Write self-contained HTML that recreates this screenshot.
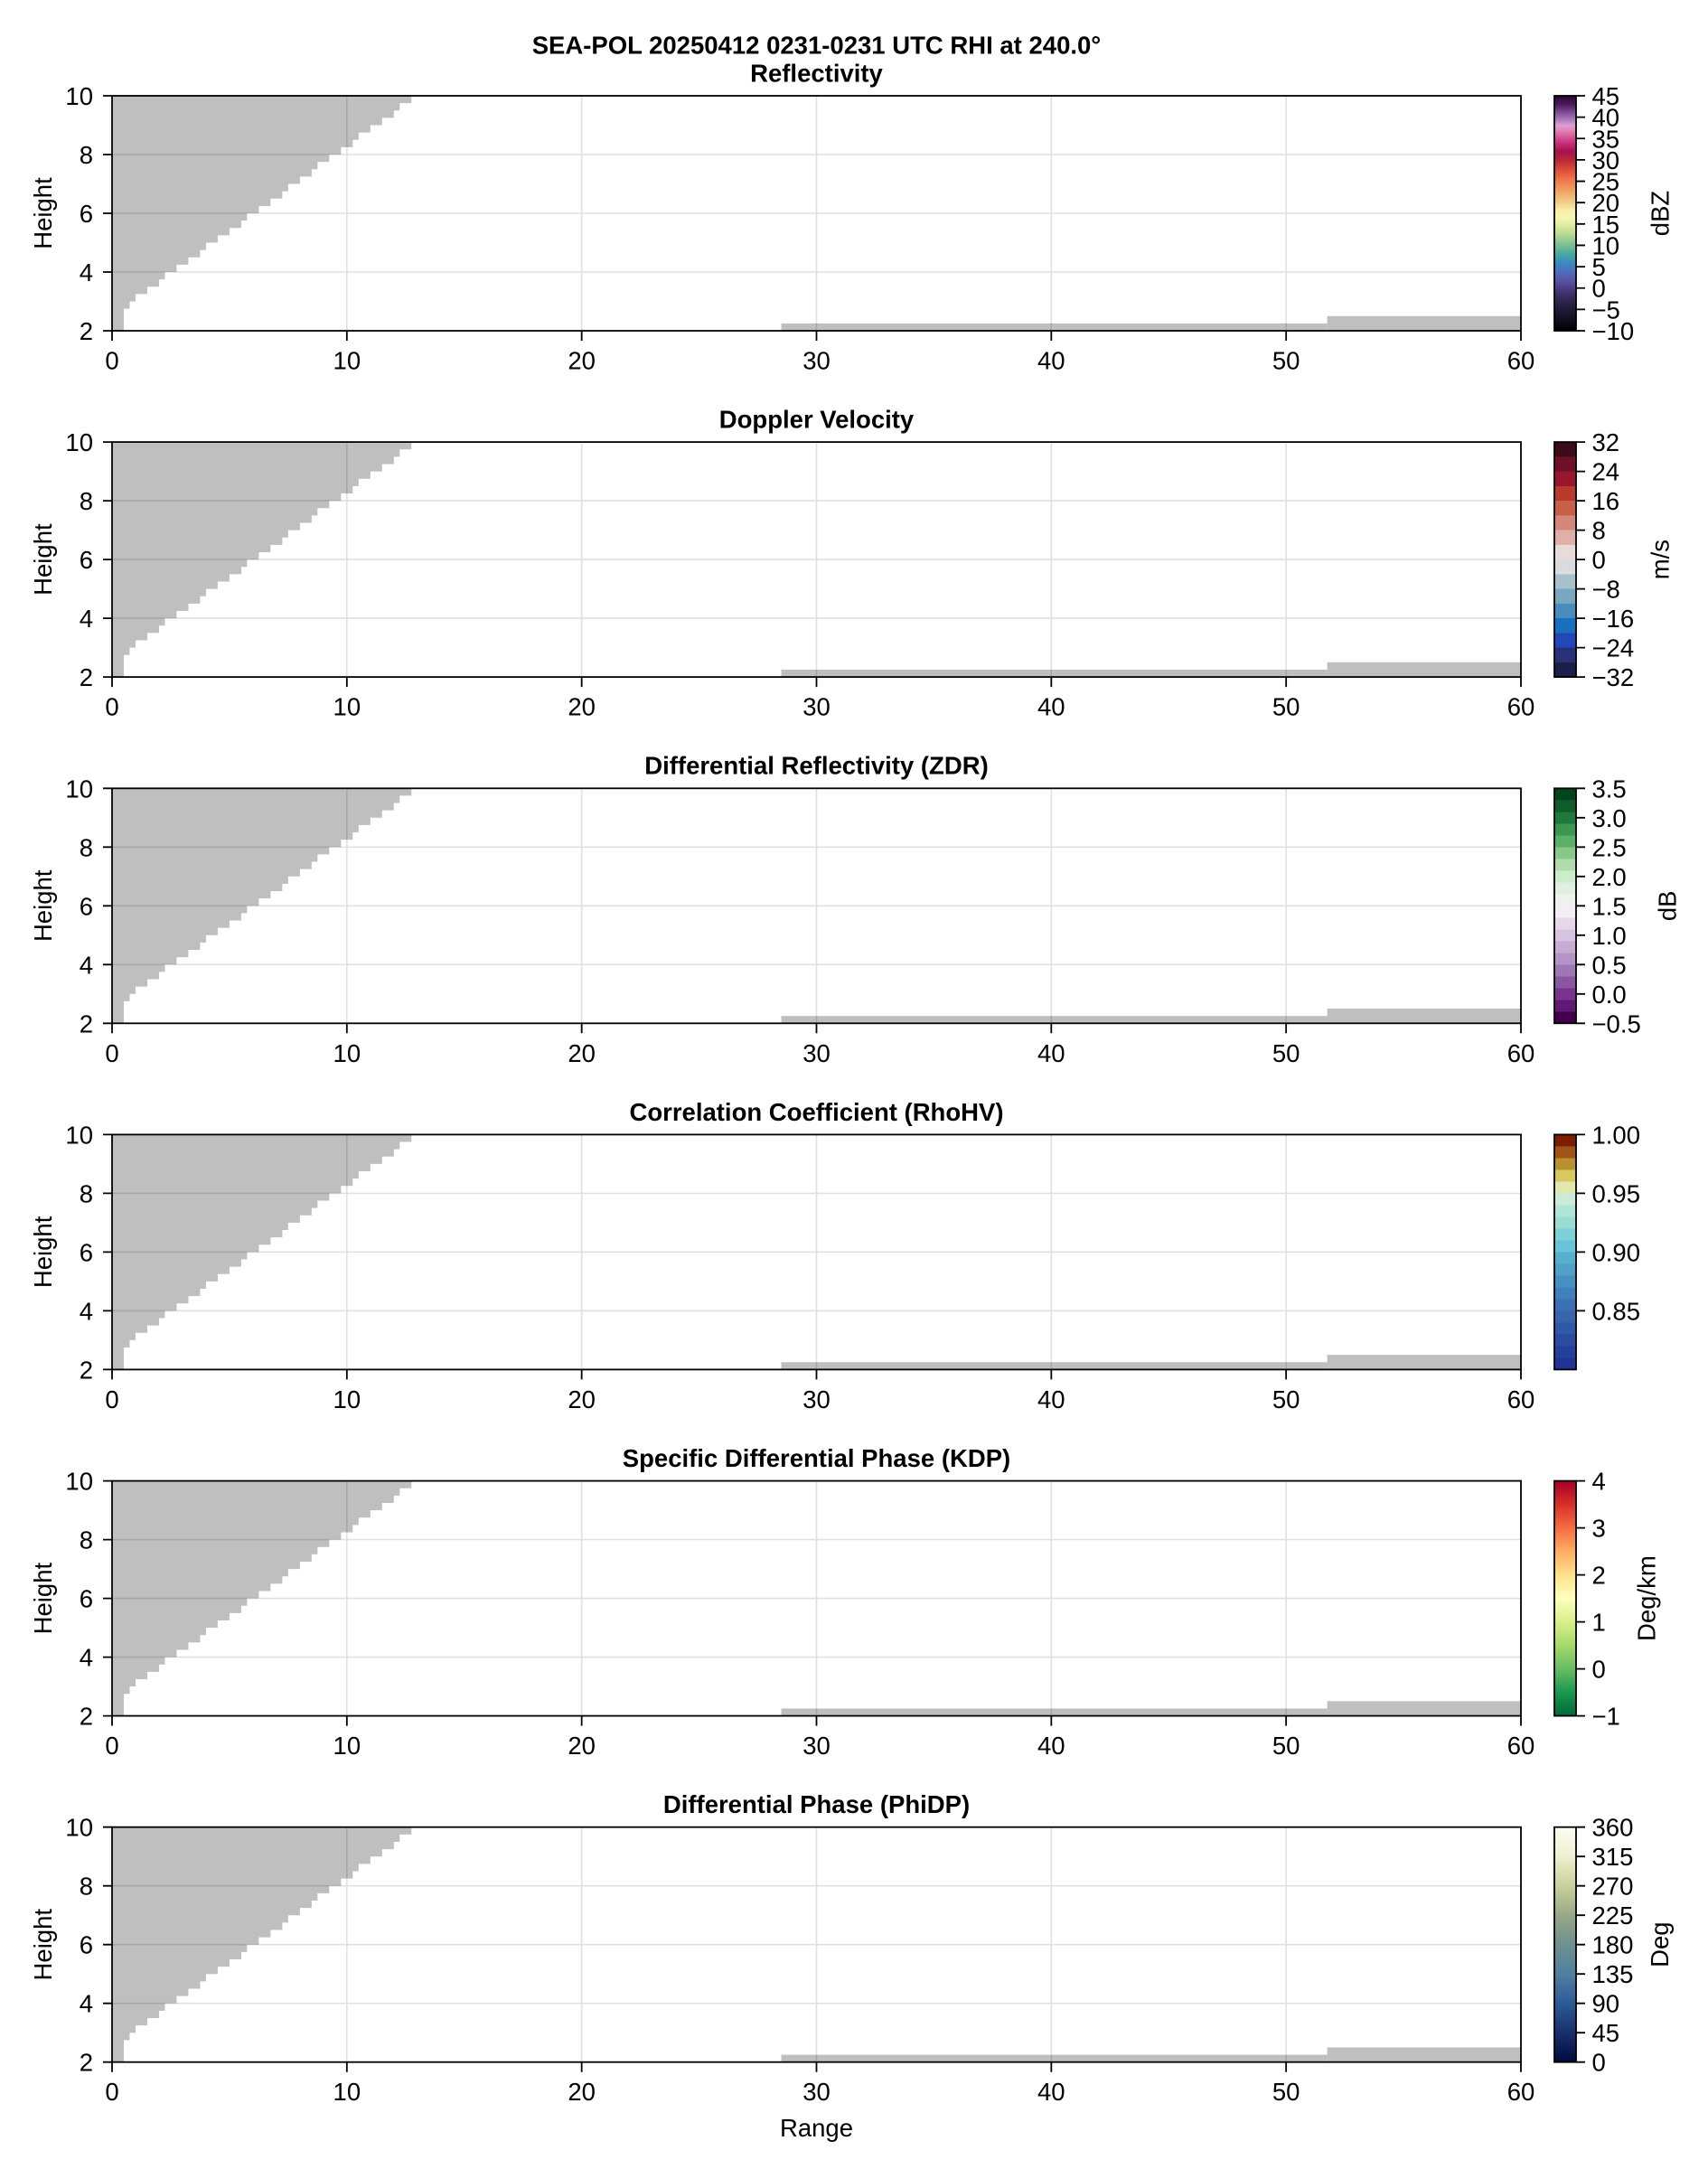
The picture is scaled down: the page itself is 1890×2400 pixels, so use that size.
<!DOCTYPE html>
<html>
<head>
<meta charset="utf-8">
<style>
html,body{margin:0;padding:0;background:#fff;}
svg{display:block;}
.t{font-family:"Liberation Sans",sans-serif;font-size:27.5px;fill:#000;}
.b{font-family:"Liberation Sans",sans-serif;font-size:27.5px;font-weight:bold;fill:#000;}
</style>
</head>
<body>
<svg width="1890" height="2400" viewBox="0 0 1890 2400" xmlns="http://www.w3.org/2000/svg">
<defs>
<linearGradient id="gZ" x1="0" y1="0" x2="0" y2="1">
<stop offset="0" stop-color="#2a0a38"/>
<stop offset="0.036" stop-color="#4a1858"/>
<stop offset="0.073" stop-color="#80509a"/>
<stop offset="0.1" stop-color="#a878b8"/>
<stop offset="0.127" stop-color="#e0a0d0"/>
<stop offset="0.16" stop-color="#e070a8"/>
<stop offset="0.2" stop-color="#c83080"/>
<stop offset="0.236" stop-color="#a81050"/>
<stop offset="0.273" stop-color="#b82838"/>
<stop offset="0.31" stop-color="#d84838"/>
<stop offset="0.345" stop-color="#ec6a44"/>
<stop offset="0.4" stop-color="#f0a060"/>
<stop offset="0.455" stop-color="#f0d088"/>
<stop offset="0.49" stop-color="#f8f0a8"/>
<stop offset="0.52" stop-color="#f4f8b4"/>
<stop offset="0.56" stop-color="#d8e89a"/>
<stop offset="0.6" stop-color="#a8d490"/>
<stop offset="0.636" stop-color="#78c098"/>
<stop offset="0.673" stop-color="#48a8a0"/>
<stop offset="0.71" stop-color="#3a8cc0"/>
<stop offset="0.745" stop-color="#4a70c0"/>
<stop offset="0.78" stop-color="#5a58a8"/>
<stop offset="0.82" stop-color="#4a3c84"/>
<stop offset="0.87" stop-color="#302650"/>
<stop offset="0.92" stop-color="#1c1830"/>
<stop offset="1" stop-color="#000000"/>
</linearGradient>
<linearGradient id="gV" x1="0" y1="0" x2="0" y2="1">
<stop offset="0" stop-color="#3c0a18"/><stop offset="0.0625" stop-color="#3c0a18"/>
<stop offset="0.0625" stop-color="#6e1028"/><stop offset="0.125" stop-color="#6e1028"/>
<stop offset="0.125" stop-color="#9a1530"/><stop offset="0.1875" stop-color="#9a1530"/>
<stop offset="0.1875" stop-color="#b83a2a"/><stop offset="0.25" stop-color="#b83a2a"/>
<stop offset="0.25" stop-color="#c86048"/><stop offset="0.3125" stop-color="#c86048"/>
<stop offset="0.3125" stop-color="#d4887a"/><stop offset="0.375" stop-color="#d4887a"/>
<stop offset="0.375" stop-color="#e0b0a8"/><stop offset="0.4375" stop-color="#e0b0a8"/>
<stop offset="0.4375" stop-color="#e8dcd8"/><stop offset="0.5" stop-color="#e8dcd8"/>
<stop offset="0.5" stop-color="#d8dcdf"/><stop offset="0.5625" stop-color="#d8dcdf"/>
<stop offset="0.5625" stop-color="#a8c0cc"/><stop offset="0.625" stop-color="#a8c0cc"/>
<stop offset="0.625" stop-color="#78a8c0"/><stop offset="0.6875" stop-color="#78a8c0"/>
<stop offset="0.6875" stop-color="#4a8cc0"/><stop offset="0.75" stop-color="#4a8cc0"/>
<stop offset="0.75" stop-color="#1870c0"/><stop offset="0.8125" stop-color="#1870c0"/>
<stop offset="0.8125" stop-color="#2048b8"/><stop offset="0.875" stop-color="#2048b8"/>
<stop offset="0.875" stop-color="#283078"/><stop offset="0.9375" stop-color="#283078"/>
<stop offset="0.9375" stop-color="#1a1e48"/><stop offset="1" stop-color="#1a1e48"/>
</linearGradient>
<linearGradient id="gD" x1="0" y1="0" x2="0" y2="1">
<stop offset="0" stop-color="#00441b"/><stop offset="0.05" stop-color="#00441b"/>
<stop offset="0.05" stop-color="#0f5e2a"/><stop offset="0.1" stop-color="#0f5e2a"/>
<stop offset="0.1" stop-color="#1e7a3a"/><stop offset="0.15" stop-color="#1e7a3a"/>
<stop offset="0.15" stop-color="#3a9650"/><stop offset="0.2" stop-color="#3a9650"/>
<stop offset="0.2" stop-color="#5cb068"/><stop offset="0.25" stop-color="#5cb068"/>
<stop offset="0.25" stop-color="#88c888"/><stop offset="0.3" stop-color="#88c888"/>
<stop offset="0.3" stop-color="#b0dcae"/><stop offset="0.35" stop-color="#b0dcae"/>
<stop offset="0.35" stop-color="#cceccc"/><stop offset="0.4" stop-color="#cceccc"/>
<stop offset="0.4" stop-color="#e0f0e0"/><stop offset="0.45" stop-color="#e0f0e0"/>
<stop offset="0.45" stop-color="#eef2ee"/><stop offset="0.5" stop-color="#eef2ee"/>
<stop offset="0.5" stop-color="#f2eef4"/><stop offset="0.55" stop-color="#f2eef4"/>
<stop offset="0.55" stop-color="#e6d8ea"/><stop offset="0.6" stop-color="#e6d8ea"/>
<stop offset="0.6" stop-color="#d8c4e0"/><stop offset="0.65" stop-color="#d8c4e0"/>
<stop offset="0.65" stop-color="#c8aad4"/><stop offset="0.7" stop-color="#c8aad4"/>
<stop offset="0.7" stop-color="#b494c6"/><stop offset="0.75" stop-color="#b494c6"/>
<stop offset="0.75" stop-color="#9e78b4"/><stop offset="0.8" stop-color="#9e78b4"/>
<stop offset="0.8" stop-color="#8a56a2"/><stop offset="0.85" stop-color="#8a56a2"/>
<stop offset="0.85" stop-color="#783490"/><stop offset="0.9" stop-color="#783490"/>
<stop offset="0.9" stop-color="#601a76"/><stop offset="0.95" stop-color="#601a76"/>
<stop offset="0.95" stop-color="#40004b"/><stop offset="1" stop-color="#40004b"/>
</linearGradient>
<linearGradient id="gR" x1="0" y1="0" x2="0" y2="1">
<stop offset="0" stop-color="#7e1e00"/><stop offset="0.05" stop-color="#7e1e00"/>
<stop offset="0.05" stop-color="#a05418"/><stop offset="0.1" stop-color="#a05418"/>
<stop offset="0.1" stop-color="#b89030"/><stop offset="0.15" stop-color="#b89030"/>
<stop offset="0.15" stop-color="#d8c860"/><stop offset="0.2" stop-color="#d8c860"/>
<stop offset="0.2" stop-color="#e0e8b0"/><stop offset="0.25" stop-color="#e0e8b0"/>
<stop offset="0.25" stop-color="#c8ecd8"/><stop offset="0.3" stop-color="#c8ecd8"/>
<stop offset="0.3" stop-color="#b0e4d8"/><stop offset="0.35" stop-color="#b0e4d8"/>
<stop offset="0.35" stop-color="#98dcd4"/><stop offset="0.4" stop-color="#98dcd4"/>
<stop offset="0.4" stop-color="#80d0d8"/><stop offset="0.45" stop-color="#80d0d8"/>
<stop offset="0.45" stop-color="#68c4d8"/><stop offset="0.5" stop-color="#68c4d8"/>
<stop offset="0.5" stop-color="#58b0d0"/><stop offset="0.55" stop-color="#58b0d0"/>
<stop offset="0.55" stop-color="#50a0c8"/><stop offset="0.6" stop-color="#50a0c8"/>
<stop offset="0.6" stop-color="#4890c4"/><stop offset="0.65" stop-color="#4890c4"/>
<stop offset="0.65" stop-color="#4080bc"/><stop offset="0.7" stop-color="#4080bc"/>
<stop offset="0.7" stop-color="#3c70b4"/><stop offset="0.75" stop-color="#3c70b4"/>
<stop offset="0.75" stop-color="#3864ac"/><stop offset="0.8" stop-color="#3864ac"/>
<stop offset="0.8" stop-color="#3058a8"/><stop offset="0.85" stop-color="#3058a8"/>
<stop offset="0.85" stop-color="#2a4ca0"/><stop offset="0.9" stop-color="#2a4ca0"/>
<stop offset="0.9" stop-color="#24409c"/><stop offset="0.95" stop-color="#24409c"/>
<stop offset="0.95" stop-color="#203498"/><stop offset="1" stop-color="#203498"/>
</linearGradient>
<linearGradient id="gK" x1="0" y1="0" x2="0" y2="1">
<stop offset="0" stop-color="#a50026"/>
<stop offset="0.1" stop-color="#d73027"/>
<stop offset="0.2" stop-color="#f46d43"/>
<stop offset="0.3" stop-color="#fdae61"/>
<stop offset="0.4" stop-color="#fee08b"/>
<stop offset="0.5" stop-color="#ffffbf"/>
<stop offset="0.6" stop-color="#d9ef8b"/>
<stop offset="0.7" stop-color="#a6d96a"/>
<stop offset="0.8" stop-color="#66bd63"/>
<stop offset="0.9" stop-color="#1a9850"/>
<stop offset="1" stop-color="#006837"/>
</linearGradient>
<linearGradient id="gP" x1="0" y1="0" x2="0" y2="1">
<stop offset="0" stop-color="#fdfdf2"/>
<stop offset="0.125" stop-color="#eef0d0"/>
<stop offset="0.25" stop-color="#c8d09c"/>
<stop offset="0.375" stop-color="#98a888"/>
<stop offset="0.5" stop-color="#6e9090"/>
<stop offset="0.625" stop-color="#5080a0"/>
<stop offset="0.75" stop-color="#2c5a98"/>
<stop offset="0.875" stop-color="#18306c"/>
<stop offset="1" stop-color="#000a40"/>
</linearGradient>
<g id="base">
<path fill="#bfbfbf" d="M124,0 H455.28 V8.125 H442.29 V16.25 H435.8 V24.375 H422.8 V32.5 H409.81 V40.625 H396.82 V48.75 H390.33 V56.875 H377.34 V65 H364.34 V73.125 H351.35 V81.25 H344.86 V89.375 H331.86 V97.5 H318.87 V105.625 H312.38 V113.75 H299.39 V121.875 H286.39 V130 H273.4 V138.125 H266.91 V146.25 H253.92 V154.375 H240.92 V162.5 H227.93 V170.625 H221.44 V178.75 H208.44 V186.875 H195.45 V195 H182.46 V203.125 H175.97 V211.25 H162.97 V219.375 H149.98 V227.5 H143.49 V235.625 H136.99 V260 H124 Z"/>
<rect x="864.52" y="251.875" width="604.1" height="8.125" fill="#bfbfbf"/>
<rect x="1468.62" y="243.75" width="214.38" height="16.25" fill="#bfbfbf"/>
<g stroke="#000" stroke-opacity="0.12" stroke-width="1.6" fill="none">
<path d="M383.83,0 V260 M643.66,0 V260 M903.49,0 V260 M1163.32,0 V260 M1423.15,0 V260 M124,65 H1683 M124,130 H1683 M124,195 H1683"/>
</g>
<rect x="124" y="0" width="1559" height="260" fill="none" stroke="#000" stroke-width="1.8"/>
<path stroke="#000" stroke-width="1.8" fill="none" d="M114,0 H124 M114,65 H124 M114,130 H124 M114,195 H124 M114,260 H124 M124,260 V271 M383.83,260 V271 M643.66,260 V271 M903.49,260 V271 M1163.32,260 V271 M1423.15,260 V271 M1683,260 V271"/>
</g>
</defs>
<rect x="0" y="0" width="1890" height="2400" fill="#fff"/>

<text class="b" x="903.5" y="59.3" text-anchor="middle">SEA-POL 20250412 0231-0231 UTC RHI at 240.0°</text>

<!-- Panel 1 -->
<g transform="translate(0,106)">
<use href="#base"/>
<text class="b" x="903.5" y="-15.6" text-anchor="middle">Reflectivity</text>
<g class="t" text-anchor="end">
<text x="103" y="10">10</text><text x="103" y="75">8</text><text x="103" y="140">6</text><text x="103" y="205">4</text><text x="103" y="270">2</text>
</g>
<g class="t" text-anchor="middle">
<text x="124" y="302.5">0</text><text x="383.83" y="302.5">10</text><text x="643.66" y="302.5">20</text><text x="903.49" y="302.5">30</text><text x="1163.32" y="302.5">40</text><text x="1423.15" y="302.5">50</text><text x="1683" y="302.5">60</text>
</g>
<text class="t" transform="translate(57,130) rotate(-90)" text-anchor="middle">Height</text>
<rect x="1720" y="0" width="24" height="260" fill="url(#gZ)" stroke="#000" stroke-width="1.8"/>
<path stroke="#000" stroke-width="1.8" d="M1744,0 H1754 M1744,23.64 H1754 M1744,47.27 H1754 M1744,70.91 H1754 M1744,94.55 H1754 M1744,118.18 H1754 M1744,141.82 H1754 M1744,165.45 H1754 M1744,189.09 H1754 M1744,212.73 H1754 M1744,236.36 H1754 M1744,260 H1754"/>
<g class="t">
<text x="1761.5" y="10">45</text><text x="1761.5" y="33.64">40</text><text x="1761.5" y="57.27">35</text><text x="1761.5" y="80.91">30</text><text x="1761.5" y="104.55">25</text><text x="1761.5" y="128.18">20</text><text x="1761.5" y="151.82">15</text><text x="1761.5" y="175.45">10</text><text x="1761.5" y="199.09">5</text><text x="1761.5" y="222.73">0</text><text x="1761.5" y="246.36">−5</text><text x="1761.5" y="270">−10</text>
</g>
<text class="t" transform="translate(1846.6,130) rotate(-90)" text-anchor="middle">dBZ</text>
</g>

<!-- Panel 2 -->
<g transform="translate(0,489.1)">
<use href="#base"/>
<text class="b" x="903.5" y="-15.6" text-anchor="middle">Doppler Velocity</text>
<g class="t" text-anchor="end">
<text x="103" y="10">10</text><text x="103" y="75">8</text><text x="103" y="140">6</text><text x="103" y="205">4</text><text x="103" y="270">2</text>
</g>
<g class="t" text-anchor="middle">
<text x="124" y="302.5">0</text><text x="383.83" y="302.5">10</text><text x="643.66" y="302.5">20</text><text x="903.49" y="302.5">30</text><text x="1163.32" y="302.5">40</text><text x="1423.15" y="302.5">50</text><text x="1683" y="302.5">60</text>
</g>
<text class="t" transform="translate(57,130) rotate(-90)" text-anchor="middle">Height</text>
<rect x="1720" y="0" width="24" height="260" fill="url(#gV)" stroke="#000" stroke-width="1.8"/>
<path stroke="#000" stroke-width="1.8" d="M1744,0 H1754 M1744,32.5 H1754 M1744,65 H1754 M1744,97.5 H1754 M1744,130 H1754 M1744,162.5 H1754 M1744,195 H1754 M1744,227.5 H1754 M1744,260 H1754"/>
<g class="t">
<text x="1761.5" y="10">32</text><text x="1761.5" y="42.5">24</text><text x="1761.5" y="75">16</text><text x="1761.5" y="107.5">8</text><text x="1761.5" y="140">0</text><text x="1761.5" y="172.5">−8</text><text x="1761.5" y="205">−16</text><text x="1761.5" y="237.5">−24</text><text x="1761.5" y="270">−32</text>
</g>
<text class="t" transform="translate(1846.6,130) rotate(-90)" text-anchor="middle">m/s</text>
</g>

<!-- Panel 3 -->
<g transform="translate(0,872.3)">
<use href="#base"/>
<text class="b" x="903.5" y="-15.6" text-anchor="middle">Differential Reflectivity (ZDR)</text>
<g class="t" text-anchor="end">
<text x="103" y="10">10</text><text x="103" y="75">8</text><text x="103" y="140">6</text><text x="103" y="205">4</text><text x="103" y="270">2</text>
</g>
<g class="t" text-anchor="middle">
<text x="124" y="302.5">0</text><text x="383.83" y="302.5">10</text><text x="643.66" y="302.5">20</text><text x="903.49" y="302.5">30</text><text x="1163.32" y="302.5">40</text><text x="1423.15" y="302.5">50</text><text x="1683" y="302.5">60</text>
</g>
<text class="t" transform="translate(57,130) rotate(-90)" text-anchor="middle">Height</text>
<rect x="1720" y="0" width="24" height="260" fill="url(#gD)" stroke="#000" stroke-width="1.8"/>
<path stroke="#000" stroke-width="1.8" d="M1744,0 H1754 M1744,32.5 H1754 M1744,65 H1754 M1744,97.5 H1754 M1744,130 H1754 M1744,162.5 H1754 M1744,195 H1754 M1744,227.5 H1754 M1744,260 H1754"/>
<g class="t">
<text x="1761.5" y="10">3.5</text><text x="1761.5" y="42.5">3.0</text><text x="1761.5" y="75">2.5</text><text x="1761.5" y="107.5">2.0</text><text x="1761.5" y="140">1.5</text><text x="1761.5" y="172.5">1.0</text><text x="1761.5" y="205">0.5</text><text x="1761.5" y="237.5">0.0</text><text x="1761.5" y="270">−0.5</text>
</g>
<text class="t" transform="translate(1854.3,130) rotate(-90)" text-anchor="middle">dB</text>
</g>

<!-- Panel 4 -->
<g transform="translate(0,1255.4)">
<use href="#base"/>
<text class="b" x="903.5" y="-15.6" text-anchor="middle">Correlation Coefficient (RhoHV)</text>
<g class="t" text-anchor="end">
<text x="103" y="10">10</text><text x="103" y="75">8</text><text x="103" y="140">6</text><text x="103" y="205">4</text><text x="103" y="270">2</text>
</g>
<g class="t" text-anchor="middle">
<text x="124" y="302.5">0</text><text x="383.83" y="302.5">10</text><text x="643.66" y="302.5">20</text><text x="903.49" y="302.5">30</text><text x="1163.32" y="302.5">40</text><text x="1423.15" y="302.5">50</text><text x="1683" y="302.5">60</text>
</g>
<text class="t" transform="translate(57,130) rotate(-90)" text-anchor="middle">Height</text>
<rect x="1720" y="0" width="24" height="260" fill="url(#gR)" stroke="#000" stroke-width="1.8"/>
<path stroke="#000" stroke-width="1.8" d="M1744,0 H1754 M1744,65 H1754 M1744,130 H1754 M1744,195 H1754"/>
<g class="t">
<text x="1761.5" y="10">1.00</text><text x="1761.5" y="75">0.95</text><text x="1761.5" y="140">0.90</text><text x="1761.5" y="205">0.85</text>
</g>
</g>

<!-- Panel 5 -->
<g transform="translate(0,1638.6)">
<use href="#base"/>
<text class="b" x="903.5" y="-15.6" text-anchor="middle">Specific Differential Phase (KDP)</text>
<g class="t" text-anchor="end">
<text x="103" y="10">10</text><text x="103" y="75">8</text><text x="103" y="140">6</text><text x="103" y="205">4</text><text x="103" y="270">2</text>
</g>
<g class="t" text-anchor="middle">
<text x="124" y="302.5">0</text><text x="383.83" y="302.5">10</text><text x="643.66" y="302.5">20</text><text x="903.49" y="302.5">30</text><text x="1163.32" y="302.5">40</text><text x="1423.15" y="302.5">50</text><text x="1683" y="302.5">60</text>
</g>
<text class="t" transform="translate(57,130) rotate(-90)" text-anchor="middle">Height</text>
<rect x="1720" y="0" width="24" height="260" fill="url(#gK)" stroke="#000" stroke-width="1.8"/>
<path stroke="#000" stroke-width="1.8" d="M1744,0 H1754 M1744,52 H1754 M1744,104 H1754 M1744,156 H1754 M1744,208 H1754 M1744,260 H1754"/>
<g class="t">
<text x="1761.5" y="10">4</text><text x="1761.5" y="62">3</text><text x="1761.5" y="114">2</text><text x="1761.5" y="166">1</text><text x="1761.5" y="218">0</text><text x="1761.5" y="270">−1</text>
</g>
<text class="t" transform="translate(1831.4,130) rotate(-90)" text-anchor="middle">Deg/km</text>
</g>

<!-- Panel 6 -->
<g transform="translate(0,2021.7)">
<use href="#base"/>
<text class="b" x="903.5" y="-15.6" text-anchor="middle">Differential Phase (PhiDP)</text>
<g class="t" text-anchor="end">
<text x="103" y="10">10</text><text x="103" y="75">8</text><text x="103" y="140">6</text><text x="103" y="205">4</text><text x="103" y="270">2</text>
</g>
<g class="t" text-anchor="middle">
<text x="124" y="302.5">0</text><text x="383.83" y="302.5">10</text><text x="643.66" y="302.5">20</text><text x="903.49" y="302.5">30</text><text x="1163.32" y="302.5">40</text><text x="1423.15" y="302.5">50</text><text x="1683" y="302.5">60</text>
</g>
<text class="t" transform="translate(57,130) rotate(-90)" text-anchor="middle">Height</text>
<text class="t" x="903.5" y="342.3" text-anchor="middle">Range</text>
<rect x="1720" y="0" width="24" height="260" fill="url(#gP)" stroke="#000" stroke-width="1.8"/>
<path stroke="#000" stroke-width="1.8" d="M1744,0 H1754 M1744,32.5 H1754 M1744,65 H1754 M1744,97.5 H1754 M1744,130 H1754 M1744,162.5 H1754 M1744,195 H1754 M1744,227.5 H1754 M1744,260 H1754"/>
<g class="t">
<text x="1761.5" y="10">360</text><text x="1761.5" y="42.5">315</text><text x="1761.5" y="75">270</text><text x="1761.5" y="107.5">225</text><text x="1761.5" y="140">180</text><text x="1761.5" y="172.5">135</text><text x="1761.5" y="205">90</text><text x="1761.5" y="237.5">45</text><text x="1761.5" y="270">0</text>
</g>
<text class="t" transform="translate(1845.9,130) rotate(-90)" text-anchor="middle">Deg</text>
</g>
</svg>
</body>
</html>
